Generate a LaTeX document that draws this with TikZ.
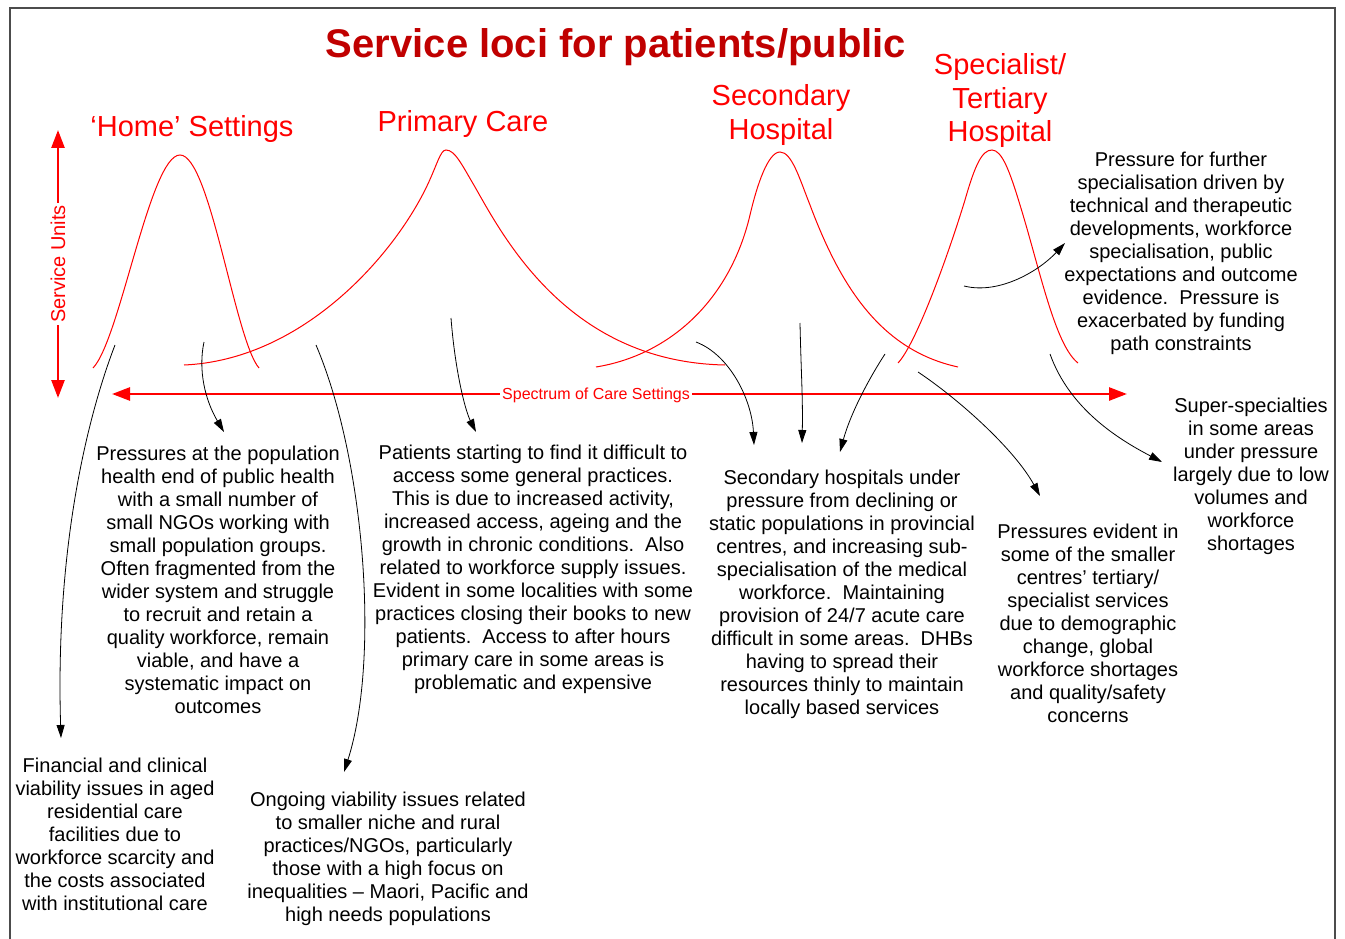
\documentclass[tikz,border=0pt]{standalone}
\usepackage{fontspec}
\setmainfont{Liberation Sans}
\usetikzlibrary{arrows.meta, positioning}
\definecolor{lociRed}{RGB}{255, 0, 0}
\definecolor{titleRed}{RGB}{192, 0, 0}
\colorlet{curve edge}{lociRed}
\colorlet{frame edge}{black!70}
\tikzset{
    bell/.style={draw=curve edge, line width=1pt},
    spectrum/.style={draw=lociRed, line width=2.6pt, >={Triangle[length=18pt,width=13pt]}, <->},
    pointer/.style={draw=black, line width=0.8pt, -{Triangle[length=13pt,width=8pt]}},
    note/.style={align=center, inner sep=0pt, font=\fontsize{20}{23}\selectfont},
    setting/.style={align=center, inner sep=0pt, text=lociRed, font=\fontsize{29}{33.5}\selectfont}
}

\begin{document}
\begin{tikzpicture}[x=1pt, y=-1pt]
    \useasboundingbox (0,0) rectangle (1345,939);

    % Frame round the slide
    \draw[frame edge, line width=1.6pt] (10,950) -- (10,8) -- (1335,8) -- (1335,950);

    % Title and the four settings
    \node[anchor=base, inner sep=0pt, text=titleRed, font=\bfseries\fontsize{40}{46}\selectfont] (title) at (616,58) {Service loci for patients/public};
    \node[setting, anchor=base] (home) at (192,137) {‘Home’ Settings};
    \node[setting, anchor=base] (primary) at (463,132) {Primary Care};
    \node[setting] (secondary) at (781,115) {Secondary\\Hospital};
    \node[setting] (tertiary) at (1000,101) {Specialist/\\Tertiary\\Hospital};

    % Axes
    \coordinate (units top) at (58,130);
    \coordinate (units bottom) at (58,398);
    \coordinate (care left) at (112,394);
    \coordinate (care right) at (1127,394);
    \draw[spectrum] (units bottom) -- (units top)
        node[midway, rotate=90, fill=white, inner sep=2pt, text=lociRed, font=\fontsize{20}{23}\selectfont] (units) {Service Units};
    \draw[spectrum] (care left) -- (care right);
    \node[fill=white, inner sep=2pt, text=lociRed, font=\fontsize{16}{19}\selectfont] (care) at (596,395) {Spectrum of Care Settings};

    % Service curves
    \draw[bell] (93,368) .. controls (120,340) and (150,155) .. (180,155)
                         .. controls (210,155) and (235,340) .. (259,368);
    \draw[bell] (184,365) .. controls (300,360) and (390,260) .. (425,190)
                          .. controls (437,166) and (440,150) .. (446,150)
                          .. controls (455,150) and (462,165) .. (475,187)
                          .. controls (505,240) and (570,362) .. (725,365);
    \draw[bell] (596,367) .. controls (670,355) and (730,300) .. (750,215)
                          .. controls (757,185) and (768,152) .. (780,152)
                          .. controls (792,152) and (800,180) .. (810,205)
                          .. controls (840,285) and (880,350) .. (958,367);
    \draw[bell] (898,363) .. controls (915,345) and (945,265) .. (965,200)
                          .. controls (975,165) and (982,150) .. (992,150)
                          .. controls (1002,150) and (1010,172) .. (1020,205)
                          .. controls (1040,270) and (1055,345) .. (1078,363);

    % Pressure notes
    \node[note] (home note) at (218,580) {Pressures at the population\\health end of public health\\with a small number of\\small NGOs working with\\small population groups.\\Often fragmented from the\\wider system and struggle\\to recruit and retain a\\quality workforce, remain\\viable, and have a\\systematic impact on\\outcomes};
    \node[note] (primary note) at (533,569) {Patients starting to find it difficult to\\access some general practices.\\This is due to increased activity,\\increased access, ageing and the\\growth in chronic conditions.\ \ Also\\related to workforce supply issues.\\Evident in some localities with some\\practices closing their books to new\\patients.\ \ Access to after hours\\primary care in some areas is\\problematic and expensive};
    \node[note] (secondary note) at (842,594) {Secondary hospitals under\\pressure from declining or\\static populations in provincial\\centres, and increasing sub-\\specialisation of the medical\\workforce.\ \ Maintaining\\provision of 24/7 acute care\\difficult in some areas.\ \ DHBs\\having to spread their\\resources thinly to maintain\\locally based services};
    \node[note] (tertiary note) at (1088,623) {Pressures evident in\\some of the smaller\\centres’ tertiary/\\specialist services\\due to demographic\\change, global\\workforce shortages\\and quality/safety\\concerns};
    \node[note] (super note) at (1251,476) {Super-specialties\\in some areas\\under pressure\\largely due to low\\volumes and\\workforce\\shortages};
    \node[note] (specialist note) at (1181,253) {Pressure for further\\specialisation driven by\\technical and therapeutic\\developments, workforce\\specialisation, public\\expectations and outcome\\evidence.\ \ Pressure is\\exacerbated by funding\\path constraints};
    \node[note] (aged note) at (115,834) {Financial and clinical\\viability issues in aged\\residential care\\facilities due to\\workforce scarcity and\\the costs associated\\with institutional care};
    \node[note] (niche note) at (388,859) {Ongoing viability issues related\\to smaller niche and rural\\practices/NGOs, particularly\\those with a high focus on\\inequalities – Maori, Pacific and\\high needs populations};

    % Arrow ends
    \coordinate (aged from) at (115,345);
    \coordinate (aged to) at (61,738);
    \coordinate (home from) at (204,342);
    \coordinate (home to) at (224,432);
    \coordinate (niche from) at (316,345);
    \coordinate (niche to) at (344,772);
    \coordinate (primary from) at (451,318);
    \coordinate (primary to) at (476,432);
    \coordinate (secondary from a) at (696,342);
    \coordinate (secondary to a) at (754,445);
    \coordinate (secondary from b) at (800,323);
    \coordinate (secondary to b) at (802,443);
    \coordinate (secondary from c) at (885,354);
    \coordinate (secondary to c) at (840,452);
    \coordinate (tertiary from) at (918,372);
    \coordinate (tertiary to) at (1040,496);
    \coordinate (super from) at (1050,354);
    \coordinate (super to) at (1162,462);
    \coordinate (specialist from) at (964,286);
    \coordinate (specialist to) at (1065,243);

    % Arrows to the notes
    \draw[pointer] (aged from) .. controls (90,410) and (55,540) .. (aged to);
    \draw[pointer] (home from) .. controls (198,370) and (205,400) .. (home to);
    \draw[pointer] (niche from) .. controls (365,460) and (380,660) .. (niche to);
    \draw[pointer] (primary from) .. controls (455,370) and (465,410) .. (primary to);
    \draw[pointer] (secondary from a) .. controls (730,355) and (752,400) .. (secondary to a);
    \draw[pointer] (secondary from b) .. controls (801,370) and (803,400) .. (secondary to b);
    \draw[pointer] (secondary from c) .. controls (868,380) and (850,415) .. (secondary to c);
    \draw[pointer] (tertiary from) .. controls (960,400) and (1015,450) .. (tertiary to);
    \draw[pointer] (super from) .. controls (1070,410) and (1120,440) .. (super to);
    \draw[pointer] (specialist from) .. controls (1000,295) and (1040,270) .. (specialist to);
\end{tikzpicture}
\end{document}
